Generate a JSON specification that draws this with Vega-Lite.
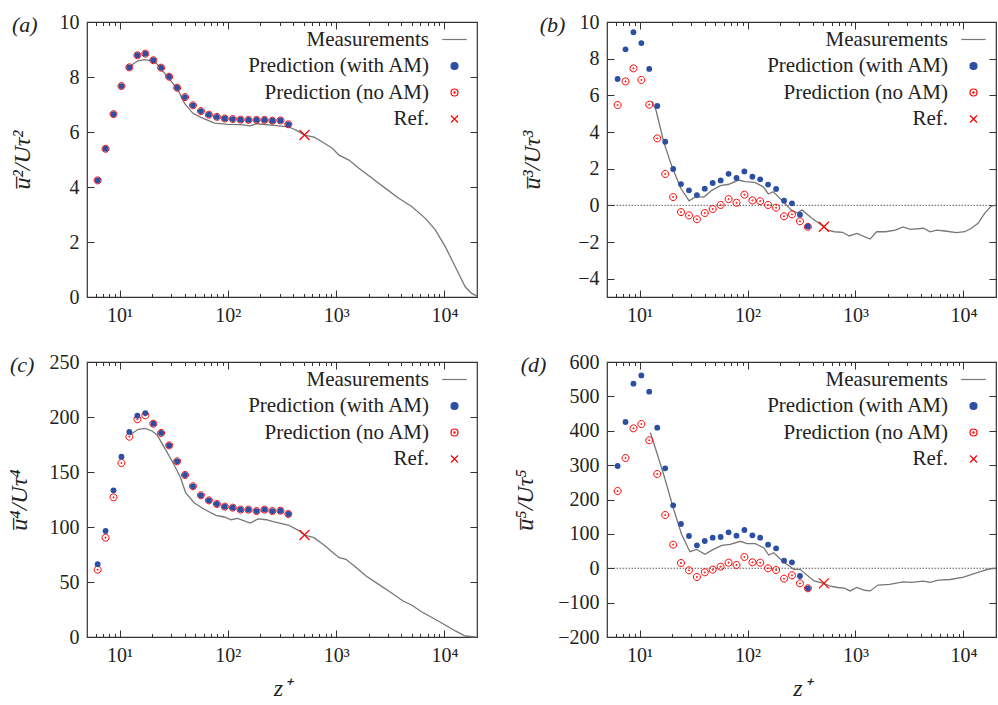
{
  "$schema": "https://vega.github.io/schema/vega-lite/v6.json",
  "background": "white",
  "padding": {"left": 6, "top": 11, "right": 0, "bottom": 0},
  "config": {
    "font": "Liberation Serif, Times New Roman, serif",
    "view": {"stroke": "#333333", "strokeWidth": 1.2},
    "axis": {"domain": false, "grid": false, "labelFont": "Liberation Serif, Times New Roman, serif", "labelFontSize": 20, "labelColor": "#222222", "tickColor": "#333333", "tickWidth": 1, "titleFont": "Liberation Serif, Times New Roman, serif", "titleFontStyle": "italic", "titleFontWeight": "normal", "titleFontSize": 24, "titleColor": "#222222", "labelFlush": false, "labelOverlap": false},
    "legend": {"orient": "top-right", "offset": 7, "padding": 0, "labelAlign": "right", "labelOffset": -36, "labelFont": "Liberation Serif, Times New Roman, serif", "labelFontSize": 21, "labelColor": "#222222", "labelLimit": 400, "symbolSize": 49, "symbolStrokeWidth": 1.2, "rowPadding": 4.5},
    "title": {"font": "Liberation Serif, Times New Roman, serif", "fontSize": 22, "fontStyle": "italic", "fontWeight": "normal", "color": "#222222", "anchor": "start", "frame": "bounds", "baseline": "middle", "offset": 0, "dy": 29}
  },
  "datasets": {
    "a": [
      {"s":"M","z":12.2,"v":8.37},{"s":"M","z":14.8,"v":8.59},{"s":"M","z":17.1,"v":8.63},{"s":"M","z":19.7,"v":8.59},{"s":"M","z":21.9,"v":8.5},{"s":"M","z":26.1,"v":8.13},{"s":"M","z":31.1,"v":7.77},{"s":"M","z":34.6,"v":7.53},{"s":"M","z":39.8,"v":7.04},{"s":"M","z":47.5,"v":6.68},{"s":"M","z":56.4,"v":6.53},{"s":"M","z":75.3,"v":6.32},{"s":"M","z":100,"v":6.28},{"s":"M","z":132,"v":6.27},{"s":"M","z":160,"v":6.22},{"s":"M","z":185,"v":6.3},{"s":"M","z":250,"v":6.25},{"s":"M","z":363,"v":6.19},{"s":"M","z":440,"v":6.04},{"s":"M","z":510,"v":5.89},{"s":"M","z":626,"v":5.81},{"s":"M","z":697,"v":5.71},{"s":"M","z":923,"v":5.41},{"s":"M","z":1063,"v":5.16},{"s":"M","z":1313,"v":4.98},{"s":"M","z":1622,"v":4.68},{"s":"M","z":2152,"v":4.32},{"s":"M","z":2856,"v":3.95},{"s":"M","z":3787,"v":3.59},{"s":"M","z":5021,"v":3.28},{"s":"M","z":6665,"v":2.86},{"s":"M","z":8240,"v":2.44},{"s":"M","z":10190,"v":1.83},{"s":"M","z":12590,"v":1.1},{"s":"M","z":15560,"v":0.37},{"s":"M","z":17900,"v":0.13},{"s":"M","z":19950,"v":0.03},
      {"s":"A","z":6.27,"v":4.24},{"s":"A","z":7.42,"v":5.39},{"s":"A","z":8.79,"v":6.65},{"s":"A","z":10.4,"v":7.67},{"s":"A","z":12.3,"v":8.35},{"s":"A","z":14.6,"v":8.79},{"s":"A","z":17.3,"v":8.85},{"s":"A","z":20.5,"v":8.61},{"s":"A","z":24.2,"v":8.34},{"s":"A","z":28.7,"v":8.01},{"s":"A","z":34,"v":7.61},{"s":"A","z":40.2,"v":7.27},{"s":"A","z":47.6,"v":6.97},{"s":"A","z":56.4,"v":6.76},{"s":"A","z":66.8,"v":6.63},{"s":"A","z":79.1,"v":6.55},{"s":"A","z":93.6,"v":6.49},{"s":"A","z":111,"v":6.47},{"s":"A","z":131,"v":6.45},{"s":"A","z":155,"v":6.44},{"s":"A","z":184,"v":6.44},{"s":"A","z":218,"v":6.44},{"s":"A","z":258,"v":6.41},{"s":"A","z":306,"v":6.42},{"s":"A","z":362,"v":6.28},
      {"s":"N","z":6.27,"v":4.24},{"s":"N","z":7.42,"v":5.39},{"s":"N","z":8.79,"v":6.65},{"s":"N","z":10.4,"v":7.67},{"s":"N","z":12.3,"v":8.35},{"s":"N","z":14.6,"v":8.79},{"s":"N","z":17.3,"v":8.85},{"s":"N","z":20.5,"v":8.61},{"s":"N","z":24.2,"v":8.34},{"s":"N","z":28.7,"v":8.01},{"s":"N","z":34,"v":7.61},{"s":"N","z":40.2,"v":7.27},{"s":"N","z":47.6,"v":6.97},{"s":"N","z":56.4,"v":6.76},{"s":"N","z":66.8,"v":6.63},{"s":"N","z":79.1,"v":6.55},{"s":"N","z":93.6,"v":6.49},{"s":"N","z":111,"v":6.47},{"s":"N","z":131,"v":6.45},{"s":"N","z":155,"v":6.44},{"s":"N","z":184,"v":6.44},{"s":"N","z":218,"v":6.44},{"s":"N","z":258,"v":6.41},{"s":"N","z":306,"v":6.42},{"s":"N","z":362,"v":6.28},
      {"s":"R","z":510,"v":5.89}
    ],
    "b": [
      {"s":"M","z":13,"v":5.69},{"s":"M","z":14.2,"v":5.2},{"s":"M","z":16.9,"v":3.38},{"s":"M","z":20,"v":2.1},{"s":"M","z":24.1,"v":0.93},{"s":"M","z":28.8,"v":0.25},{"s":"M","z":33.1,"v":0.47},{"s":"M","z":39.4,"v":0.45},{"s":"M","z":47.1,"v":0.83},{"s":"M","z":56.2,"v":1.07},{"s":"M","z":67,"v":1.15},{"s":"M","z":82.7,"v":1.38},{"s":"M","z":95.2,"v":1.29},{"s":"M","z":117,"v":1.25},{"s":"M","z":140,"v":1.01},{"s":"M","z":156,"v":0.62},{"s":"M","z":173,"v":0.74},{"s":"M","z":200,"v":0.38},{"s":"M","z":255,"v":-0.26},{"s":"M","z":292,"v":-0.42},{"s":"M","z":320,"v":-0.25},{"s":"M","z":389,"v":-0.68},{"s":"M","z":510,"v":-1.17},{"s":"M","z":553,"v":-1.35},{"s":"M","z":638,"v":-1.44},{"s":"M","z":760,"v":-1.47},{"s":"M","z":875,"v":-1.67},{"s":"M","z":1028,"v":-1.53},{"s":"M","z":1364,"v":-1.84},{"s":"M","z":1568,"v":-1.44},{"s":"M","z":1895,"v":-1.44},{"s":"M","z":2343,"v":-1.35},{"s":"M","z":2754,"v":-1.18},{"s":"M","z":3214,"v":-1.31},{"s":"M","z":4265,"v":-1.25},{"s":"M","z":4906,"v":-1.45},{"s":"M","z":5650,"v":-1.35},{"s":"M","z":6733,"v":-1.4},{"s":"M","z":8625,"v":-1.49},{"s":"M","z":10280,"v":-1.44},{"s":"M","z":11840,"v":-1.25},{"s":"M","z":13640,"v":-0.98},{"s":"M","z":15680,"v":-0.44},{"s":"M","z":18060,"v":-0.04},{"s":"M","z":19670,"v":0},
      {"s":"A","z":6.27,"v":6.89},{"s":"A","z":7.42,"v":8.51},{"s":"A","z":8.79,"v":9.44},{"s":"A","z":10.4,"v":8.85},{"s":"A","z":12.3,"v":7.44},{"s":"A","z":14.6,"v":5.42},{"s":"A","z":17.3,"v":3.47},{"s":"A","z":20.5,"v":1.98},{"s":"A","z":24.2,"v":1.16},{"s":"A","z":28.7,"v":0.82},{"s":"A","z":34,"v":0.56},{"s":"A","z":40.2,"v":0.91},{"s":"A","z":47.6,"v":1.22},{"s":"A","z":56.4,"v":1.36},{"s":"A","z":66.8,"v":1.72},{"s":"A","z":79.1,"v":1.49},{"s":"A","z":93.6,"v":1.85},{"s":"A","z":111,"v":1.56},{"s":"A","z":131,"v":1.42},{"s":"A","z":155,"v":1.13},{"s":"A","z":184,"v":0.89},{"s":"A","z":218,"v":0.25},{"s":"A","z":258,"v":0.11},{"s":"A","z":306,"v":-0.51},{"s":"A","z":362,"v":-1.15},
      {"s":"N","z":6.27,"v":5.47},{"s":"N","z":7.42,"v":6.76},{"s":"N","z":8.79,"v":7.47},{"s":"N","z":10.4,"v":6.84},{"s":"N","z":12.3,"v":5.49},{"s":"N","z":14.6,"v":3.65},{"s":"N","z":17.3,"v":1.71},{"s":"N","z":20.5,"v":0.45},{"s":"N","z":24.2,"v":-0.37},{"s":"N","z":28.7,"v":-0.55},{"s":"N","z":34,"v":-0.76},{"s":"N","z":40.2,"v":-0.42},{"s":"N","z":47.6,"v":-0.2},{"s":"N","z":56.4,"v":0.02},{"s":"N","z":66.8,"v":0.34},{"s":"N","z":79.1,"v":0.14},{"s":"N","z":93.6,"v":0.58},{"s":"N","z":111,"v":0.27},{"s":"N","z":131,"v":0.23},{"s":"N","z":155,"v":0.02},{"s":"N","z":184,"v":-0.13},{"s":"N","z":218,"v":-0.6},{"s":"N","z":258,"v":-0.49},{"s":"N","z":306,"v":-0.87},{"s":"N","z":362,"v":-1.17},
      {"s":"R","z":510,"v":-1.17}
    ],
    "c": [
      {"s":"M","z":12.4,"v":183.6},{"s":"M","z":14.9,"v":188.8},{"s":"M","z":17.2,"v":189.7},{"s":"M","z":19.9,"v":187.3},{"s":"M","z":22.2,"v":183.6},{"s":"M","z":26.5,"v":170.6},{"s":"M","z":31.7,"v":157},{"s":"M","z":36.6,"v":144.8},{"s":"M","z":40.7,"v":131.2},{"s":"M","z":48.7,"v":122.1},{"s":"M","z":60.4,"v":116.1},{"s":"M","z":77.6,"v":110.6},{"s":"M","z":92.7,"v":109.1},{"s":"M","z":107,"v":106.6},{"s":"M","z":123,"v":107.9},{"s":"M","z":161,"v":103.6},{"s":"M","z":190,"v":107.3},{"s":"M","z":227,"v":106.6},{"s":"M","z":262,"v":104.8},{"s":"M","z":361,"v":101.8},{"s":"M","z":448,"v":97},{"s":"M","z":510,"v":92.7},{"s":"M","z":624,"v":90.3},{"s":"M","z":794,"v":82.7},{"s":"M","z":891,"v":78.5},{"s":"M","z":1067,"v":72.1},{"s":"M","z":1230,"v":70.6},{"s":"M","z":1473,"v":64.5},{"s":"M","z":1889,"v":55.5},{"s":"M","z":2339,"v":49.4},{"s":"M","z":3228,"v":40.3},{"s":"M","z":4150,"v":32.7},{"s":"M","z":4963,"v":29.1},{"s":"M","z":6152,"v":23},{"s":"M","z":8204,"v":16.1},{"s":"M","z":10160,"v":10.9},{"s":"M","z":12610,"v":5.5},{"s":"M","z":15630,"v":0.9},{"s":"M","z":19360,"v":0},
      {"s":"A","z":6.27,"v":66.1},{"s":"A","z":7.42,"v":96.4},{"s":"A","z":8.79,"v":133.3},{"s":"A","z":10.4,"v":163.9},{"s":"A","z":12.3,"v":186.4},{"s":"A","z":14.6,"v":201.2},{"s":"A","z":17.3,"v":203.6},{"s":"A","z":20.5,"v":193.9},{"s":"A","z":24.2,"v":185.5},{"s":"A","z":28.7,"v":174.2},{"s":"A","z":34,"v":159.7},{"s":"A","z":40.2,"v":147.3},{"s":"A","z":47.6,"v":137},{"s":"A","z":56.4,"v":128.8},{"s":"A","z":66.8,"v":124.2},{"s":"A","z":79.1,"v":120.9},{"s":"A","z":93.6,"v":118.5},{"s":"A","z":111,"v":117.6},{"s":"A","z":131,"v":115.8},{"s":"A","z":155,"v":115.8},{"s":"A","z":184,"v":114.5},{"s":"A","z":218,"v":115.8},{"s":"A","z":258,"v":114.5},{"s":"A","z":306,"v":114.8},{"s":"A","z":362,"v":111.8},
      {"s":"N","z":6.27,"v":61.2},{"s":"N","z":7.42,"v":90.3},{"s":"N","z":8.79,"v":127},{"s":"N","z":10.4,"v":158.2},{"s":"N","z":12.3,"v":182.1},{"s":"N","z":14.6,"v":197.9},{"s":"N","z":17.3,"v":201.5},{"s":"N","z":20.5,"v":193.9},{"s":"N","z":24.2,"v":185.5},{"s":"N","z":28.7,"v":174.2},{"s":"N","z":34,"v":159.7},{"s":"N","z":40.2,"v":147.3},{"s":"N","z":47.6,"v":137},{"s":"N","z":56.4,"v":128.8},{"s":"N","z":66.8,"v":124.2},{"s":"N","z":79.1,"v":120.9},{"s":"N","z":93.6,"v":118.5},{"s":"N","z":111,"v":117.6},{"s":"N","z":131,"v":115.8},{"s":"N","z":155,"v":115.8},{"s":"N","z":184,"v":114.5},{"s":"N","z":218,"v":115.8},{"s":"N","z":258,"v":114.5},{"s":"N","z":306,"v":114.8},{"s":"N","z":362,"v":111.8},
      {"s":"R","z":510,"v":92.7}
    ],
    "d": [
      {"s":"M","z":12.6,"v":394.5},{"s":"M","z":14.3,"v":341},{"s":"M","z":17.1,"v":263},{"s":"M","z":20.5,"v":176},{"s":"M","z":24.5,"v":98.8},{"s":"M","z":29.3,"v":48.2},{"s":"M","z":33.8,"v":55},{"s":"M","z":40.4,"v":40.5},{"s":"M","z":48.3,"v":55},{"s":"M","z":57.8,"v":66.7},{"s":"M","z":69.2,"v":69.7},{"s":"M","z":85.8,"v":78.4},{"s":"M","z":98.9,"v":71.4},{"s":"M","z":118,"v":71.4},{"s":"M","z":141,"v":59.8},{"s":"M","z":157,"v":38.5},{"s":"M","z":175,"v":45.2},{"s":"M","z":210,"v":21.1},{"s":"M","z":269,"v":-3},{"s":"M","z":306,"v":-3},{"s":"M","z":414,"v":-37},{"s":"M","z":510,"v":-43.9},{"s":"M","z":571,"v":-51},{"s":"M","z":684,"v":-56},{"s":"M","z":788,"v":-58},{"s":"M","z":891,"v":-66},{"s":"M","z":1028,"v":-56},{"s":"M","z":1211,"v":-64},{"s":"M","z":1368,"v":-66},{"s":"M","z":1614,"v":-49},{"s":"M","z":2071,"v":-47},{"s":"M","z":2761,"v":-39.6},{"s":"M","z":3302,"v":-41.3},{"s":"M","z":4246,"v":-37.6},{"s":"M","z":4887,"v":-41.3},{"s":"M","z":5862,"v":-34.6},{"s":"M","z":7516,"v":-32.7},{"s":"M","z":10020,"v":-25.5},{"s":"M","z":11970,"v":-17.7},{"s":"M","z":14320,"v":-10},{"s":"M","z":17140,"v":-2.2},{"s":"M","z":19770,"v":0},
      {"s":"A","z":6.27,"v":297.5},{"s":"A","z":7.42,"v":425.5},{"s":"A","z":8.79,"v":537},{"s":"A","z":10.4,"v":561},{"s":"A","z":12.3,"v":513.7},{"s":"A","z":14.6,"v":409},{"s":"A","z":17.3,"v":290.7},{"s":"A","z":20.5,"v":183},{"s":"A","z":24.2,"v":128.7},{"s":"A","z":28.7,"v":93.8},{"s":"A","z":34,"v":66.7},{"s":"A","z":40.2,"v":79.3},{"s":"A","z":47.6,"v":88.9},{"s":"A","z":56.4,"v":90.9},{"s":"A","z":66.8,"v":104.5},{"s":"A","z":79.1,"v":94.8},{"s":"A","z":93.6,"v":111.3},{"s":"A","z":111,"v":95.8},{"s":"A","z":131,"v":88.9},{"s":"A","z":155,"v":68.6},{"s":"A","z":184,"v":58},{"s":"A","z":218,"v":22},{"s":"A","z":258,"v":17.2},{"s":"A","z":306,"v":-22.5},{"s":"A","z":362,"v":-58.4},
      {"s":"N","z":6.27,"v":224.7},{"s":"N","z":7.42,"v":320.7},{"s":"N","z":8.79,"v":407},{"s":"N","z":10.4,"v":419.6},{"s":"N","z":12.3,"v":372.2},{"s":"N","z":14.6,"v":274.2},{"s":"N","z":17.3,"v":154.9},{"s":"N","z":20.5,"v":68.6},{"s":"N","z":24.2,"v":15.3},{"s":"N","z":28.7,"v":-6.1},{"s":"N","z":34,"v":-25.5},{"s":"N","z":40.2,"v":-11.9},{"s":"N","z":47.6,"v":-4.1},{"s":"N","z":56.4,"v":4.6},{"s":"N","z":66.8,"v":16.2},{"s":"N","z":79.1,"v":9.5},{"s":"N","z":93.6,"v":32.7},{"s":"N","z":111,"v":17.2},{"s":"N","z":131,"v":16.2},{"s":"N","z":155,"v":-0.2},{"s":"N","z":184,"v":-5.1},{"s":"N","z":218,"v":-30.3},{"s":"N","z":258,"v":-20.6},{"s":"N","z":306,"v":-43.9},{"s":"N","z":362,"v":-58.4},
      {"s":"R","z":510,"v":-43.9}
    ]
  },
  "columns": 2,
  "spacing": {"row": 21, "column": 32},
  "resolve": {
    "scale": {"x": "independent", "y": "independent", "shape": "independent", "fill": "independent", "stroke": "independent"},
    "legend": {"shape": "independent", "fill": "independent", "stroke": "independent"}
  },
  "concat": [
    {
      "width": 390, "height": 275,
      "title": {"text": "(a)", "dx": 2},
      "data": {"name": "a"},
      "resolve": {"axis": {"x": "independent", "y": "independent"}},
      "layer": [
        {"transform": [{"filter": "datum.s==='M'"}],
         "mark": {"type": "line", "strokeWidth": 1.3},
         "encoding": {
           "x": {"field": "z", "type": "quantitative", "scale": {"type": "log", "domain": [5, 20000], "nice": false},
                 "axis": {"orient": "bottom", "values": [6,7,8,9,10,20,30,40,50,60,70,80,90,100,200,300,400,500,600,700,800,900,1000,2000,3000,4000,5000,6000,7000,8000,9000,10000],
                          "labelExpr": "abs(log(datum.value)/LN10-round(log(datum.value)/LN10))<0.001 ? '10'+['','¹','²','³','⁴'][round(log(datum.value)/LN10)] : ''",
                          "tickSize": {"condition": {"test": "abs(log(datum.value)/LN10-round(log(datum.value)/LN10))<0.001", "value": -7}, "value": -3.5},
                          "labelPadding": 15, "title": null}},
           "y": {"field": "v", "type": "quantitative", "scale": {"domain": [0, 10], "nice": false, "zero": false},
                 "axis": {"orient": "left", "values": [0,2,4,6,8,10], "tickSize": -7, "labelPadding": 15, "title": "u̅²/Uτ²", "titlePadding": 25}},
           "stroke": {"field": "s", "type": "nominal", "scale": {"domain": ["M","A","N","R"], "range": ["#777777","#2c4fa3","#ff0000","#ff0000"]}, "legend": {"title": null, "labelExpr": "datum.label==='M'?'Measurements':datum.label==='A'?'Prediction (with AM)':datum.label==='N'?'Prediction (no AM)':'Ref.'"}}
         }},
        {"transform": [{"filter": "datum.s==='N'"}],
         "mark": {"type": "point", "size": 49, "strokeWidth": 1, "opacity": 1},
         "encoding": {
           "x": {"field": "z", "type": "quantitative", "axis": null},
           "y": {"field": "v", "type": "quantitative", "axis": null},
           "shape": {"field": "s", "type": "nominal", "scale": {"domain": ["M","A","N","R"], "range": ["M-3.5,0H3.5","circle","M1,0A1,1,0,1,1,-1,0A1,1,0,1,1,1,0M0.18,0A0.18,0.18,0,1,1,-0.18,0A0.18,0.18,0,1,1,0.18,0","M-1,-1L1,1M-1,1L1,-1"]}, "legend": {"title": null, "labelExpr": "datum.label==='M'?'Measurements':datum.label==='A'?'Prediction (with AM)':datum.label==='N'?'Prediction (no AM)':'Ref.'"}},
           "fill": {"field": "s", "type": "nominal", "scale": {"domain": ["M","A","N","R"], "range": ["transparent","#2c4fa3","transparent","transparent"]}, "legend": {"title": null, "labelExpr": "datum.label==='M'?'Measurements':datum.label==='A'?'Prediction (with AM)':datum.label==='N'?'Prediction (no AM)':'Ref.'"}},
           "stroke": {"field": "s", "type": "nominal", "legend": {"title": null, "labelExpr": "datum.label==='M'?'Measurements':datum.label==='A'?'Prediction (with AM)':datum.label==='N'?'Prediction (no AM)':'Ref.'"}}
         }},
        {"transform": [{"filter": "datum.s==='A'"}],
         "mark": {"type": "point", "size": 34, "strokeWidth": 0, "opacity": 1},
         "encoding": {
           "x": {"field": "z", "type": "quantitative", "axis": null},
           "y": {"field": "v", "type": "quantitative", "axis": null},
           "shape": {"field": "s", "type": "nominal", "legend": {"title": null, "labelExpr": "datum.label==='M'?'Measurements':datum.label==='A'?'Prediction (with AM)':datum.label==='N'?'Prediction (no AM)':'Ref.'"}},
           "fill": {"field": "s", "type": "nominal", "legend": {"title": null, "labelExpr": "datum.label==='M'?'Measurements':datum.label==='A'?'Prediction (with AM)':datum.label==='N'?'Prediction (no AM)':'Ref.'"}},
           "stroke": {"field": "s", "type": "nominal", "legend": {"title": null, "labelExpr": "datum.label==='M'?'Measurements':datum.label==='A'?'Prediction (with AM)':datum.label==='N'?'Prediction (no AM)':'Ref.'"}}
         }},
        {"transform": [{"filter": "datum.s==='R'"}],
         "mark": {"type": "point", "size": 100, "strokeWidth": 1.2, "opacity": 1},
         "encoding": {
           "x": {"field": "z", "type": "quantitative", "axis": null},
           "y": {"field": "v", "type": "quantitative", "axis": null},
           "shape": {"field": "s", "type": "nominal", "legend": {"title": null, "labelExpr": "datum.label==='M'?'Measurements':datum.label==='A'?'Prediction (with AM)':datum.label==='N'?'Prediction (no AM)':'Ref.'"}},
           "fill": {"field": "s", "type": "nominal", "legend": {"title": null, "labelExpr": "datum.label==='M'?'Measurements':datum.label==='A'?'Prediction (with AM)':datum.label==='N'?'Prediction (no AM)':'Ref.'"}},
           "stroke": {"field": "s", "type": "nominal", "legend": {"title": null, "labelExpr": "datum.label==='M'?'Measurements':datum.label==='A'?'Prediction (with AM)':datum.label==='N'?'Prediction (no AM)':'Ref.'"}}
         }},
        {"transform": [{"filter": "datum.s==='R'"}],
         "mark": {"type": "point", "opacity": 0},
         "encoding": {
           "x": {"field": "z", "type": "quantitative",
                 "axis": {"orient": "top", "values": [6,7,8,9,10,20,30,40,50,60,70,80,90,100,200,300,400,500,600,700,800,900,1000,2000,3000,4000,5000,6000,7000,8000,9000,10000], "labels": false,
                          "tickSize": {"condition": {"test": "abs(log(datum.value)/LN10-round(log(datum.value)/LN10))<0.001", "value": -7}, "value": -3.5}, "title": null}},
           "y": {"field": "v", "type": "quantitative", "axis": {"orient": "right", "values": [0,2,4,6,8,10], "labels": false, "tickSize": -7, "title": null}}
         }}
      ]
    },
    {
      "width": 389, "height": 275,
      "title": {"text": "(b)", "dx": 19},
      "data": {"name": "b"},
      "resolve": {"axis": {"x": "independent", "y": "independent"}},
      "layer": [
        {"data": {"values": [{}]},
         "mark": {"type": "rule", "strokeDash": [1.5, 1.5], "color": "#333333", "strokeWidth": 0.8},
         "encoding": {"y": {"datum": 0, "type": "quantitative", "axis": null}}},
        {"transform": [{"filter": "datum.s==='M'"}],
         "mark": {"type": "line", "strokeWidth": 1.3},
         "encoding": {
           "x": {"field": "z", "type": "quantitative", "scale": {"type": "log", "domain": [5, 20000], "nice": false},
                 "axis": {"orient": "bottom", "values": [6,7,8,9,10,20,30,40,50,60,70,80,90,100,200,300,400,500,600,700,800,900,1000,2000,3000,4000,5000,6000,7000,8000,9000,10000],
                          "labelExpr": "abs(log(datum.value)/LN10-round(log(datum.value)/LN10))<0.001 ? '10'+['','¹','²','³','⁴'][round(log(datum.value)/LN10)] : ''",
                          "tickSize": {"condition": {"test": "abs(log(datum.value)/LN10-round(log(datum.value)/LN10))<0.001", "value": -7}, "value": -3.5},
                          "labelPadding": 15, "title": null}},
           "y": {"field": "v", "type": "quantitative", "scale": {"domain": [-5, 10], "nice": false, "zero": false},
                 "axis": {"orient": "left", "values": [-4,-2,0,2,4,6,8,10], "tickSize": -7, "labelPadding": 15, "title": "u̅³/Uτ³", "titlePadding": 33}},
           "stroke": {"field": "s", "type": "nominal", "scale": {"domain": ["M","A","N","R"], "range": ["#777777","#2c4fa3","#ff0000","#ff0000"]}, "legend": {"title": null, "labelExpr": "datum.label==='M'?'Measurements':datum.label==='A'?'Prediction (with AM)':datum.label==='N'?'Prediction (no AM)':'Ref.'"}}
         }},
        {"transform": [{"filter": "datum.s==='N'"}],
         "mark": {"type": "point", "size": 49, "strokeWidth": 1, "opacity": 1},
         "encoding": {
           "x": {"field": "z", "type": "quantitative", "axis": null},
           "y": {"field": "v", "type": "quantitative", "axis": null},
           "shape": {"field": "s", "type": "nominal", "scale": {"domain": ["M","A","N","R"], "range": ["M-3.5,0H3.5","circle","M1,0A1,1,0,1,1,-1,0A1,1,0,1,1,1,0M0.18,0A0.18,0.18,0,1,1,-0.18,0A0.18,0.18,0,1,1,0.18,0","M-1,-1L1,1M-1,1L1,-1"]}, "legend": {"title": null, "labelExpr": "datum.label==='M'?'Measurements':datum.label==='A'?'Prediction (with AM)':datum.label==='N'?'Prediction (no AM)':'Ref.'"}},
           "fill": {"field": "s", "type": "nominal", "scale": {"domain": ["M","A","N","R"], "range": ["transparent","#2c4fa3","transparent","transparent"]}, "legend": {"title": null, "labelExpr": "datum.label==='M'?'Measurements':datum.label==='A'?'Prediction (with AM)':datum.label==='N'?'Prediction (no AM)':'Ref.'"}},
           "stroke": {"field": "s", "type": "nominal", "legend": {"title": null, "labelExpr": "datum.label==='M'?'Measurements':datum.label==='A'?'Prediction (with AM)':datum.label==='N'?'Prediction (no AM)':'Ref.'"}}
         }},
        {"transform": [{"filter": "datum.s==='A'"}],
         "mark": {"type": "point", "size": 34, "strokeWidth": 0, "opacity": 1},
         "encoding": {
           "x": {"field": "z", "type": "quantitative", "axis": null},
           "y": {"field": "v", "type": "quantitative", "axis": null},
           "shape": {"field": "s", "type": "nominal", "legend": {"title": null, "labelExpr": "datum.label==='M'?'Measurements':datum.label==='A'?'Prediction (with AM)':datum.label==='N'?'Prediction (no AM)':'Ref.'"}},
           "fill": {"field": "s", "type": "nominal", "legend": {"title": null, "labelExpr": "datum.label==='M'?'Measurements':datum.label==='A'?'Prediction (with AM)':datum.label==='N'?'Prediction (no AM)':'Ref.'"}},
           "stroke": {"field": "s", "type": "nominal", "legend": {"title": null, "labelExpr": "datum.label==='M'?'Measurements':datum.label==='A'?'Prediction (with AM)':datum.label==='N'?'Prediction (no AM)':'Ref.'"}}
         }},
        {"transform": [{"filter": "datum.s==='R'"}],
         "mark": {"type": "point", "size": 100, "strokeWidth": 1.2, "opacity": 1},
         "encoding": {
           "x": {"field": "z", "type": "quantitative", "axis": null},
           "y": {"field": "v", "type": "quantitative", "axis": null},
           "shape": {"field": "s", "type": "nominal", "legend": {"title": null, "labelExpr": "datum.label==='M'?'Measurements':datum.label==='A'?'Prediction (with AM)':datum.label==='N'?'Prediction (no AM)':'Ref.'"}},
           "fill": {"field": "s", "type": "nominal", "legend": {"title": null, "labelExpr": "datum.label==='M'?'Measurements':datum.label==='A'?'Prediction (with AM)':datum.label==='N'?'Prediction (no AM)':'Ref.'"}},
           "stroke": {"field": "s", "type": "nominal", "legend": {"title": null, "labelExpr": "datum.label==='M'?'Measurements':datum.label==='A'?'Prediction (with AM)':datum.label==='N'?'Prediction (no AM)':'Ref.'"}}
         }},
        {"transform": [{"filter": "datum.s==='R'"}],
         "mark": {"type": "point", "opacity": 0},
         "encoding": {
           "x": {"field": "z", "type": "quantitative",
                 "axis": {"orient": "top", "values": [6,7,8,9,10,20,30,40,50,60,70,80,90,100,200,300,400,500,600,700,800,900,1000,2000,3000,4000,5000,6000,7000,8000,9000,10000], "labels": false,
                          "tickSize": {"condition": {"test": "abs(log(datum.value)/LN10-round(log(datum.value)/LN10))<0.001", "value": -7}, "value": -3.5}, "title": null}},
           "y": {"field": "v", "type": "quantitative", "axis": {"orient": "right", "values": [-4,-2,0,2,4,6,8,10], "labels": false, "tickSize": -7, "title": null}}
         }}
      ]
    },
    {
      "width": 390, "height": 275,
      "title": {"text": "(c)", "dx": 3},
      "data": {"name": "c"},
      "resolve": {"axis": {"x": "independent", "y": "independent"}},
      "layer": [
        {"transform": [{"filter": "datum.s==='M'"}],
         "mark": {"type": "line", "strokeWidth": 1.3},
         "encoding": {
           "x": {"field": "z", "type": "quantitative", "scale": {"type": "log", "domain": [5, 20000], "nice": false},
                 "axis": {"orient": "bottom", "values": [6,7,8,9,10,20,30,40,50,60,70,80,90,100,200,300,400,500,600,700,800,900,1000,2000,3000,4000,5000,6000,7000,8000,9000,10000],
                          "labelExpr": "abs(log(datum.value)/LN10-round(log(datum.value)/LN10))<0.001 ? '10'+['','¹','²','³','⁴'][round(log(datum.value)/LN10)] : ''",
                          "tickSize": {"condition": {"test": "abs(log(datum.value)/LN10-round(log(datum.value)/LN10))<0.001", "value": -7}, "value": -3.5},
                          "labelPadding": 15, "title": "z⁺", "titlePadding": 8}},
           "y": {"field": "v", "type": "quantitative", "scale": {"domain": [0, 250], "nice": false, "zero": false},
                 "axis": {"orient": "left", "values": [0,50,100,150,200,250], "tickSize": -7, "labelPadding": 15, "title": "u̅⁴/Uτ⁴", "titlePadding": 18}},
           "stroke": {"field": "s", "type": "nominal", "scale": {"domain": ["M","A","N","R"], "range": ["#777777","#2c4fa3","#ff0000","#ff0000"]}, "legend": {"title": null, "labelExpr": "datum.label==='M'?'Measurements':datum.label==='A'?'Prediction (with AM)':datum.label==='N'?'Prediction (no AM)':'Ref.'"}}
         }},
        {"transform": [{"filter": "datum.s==='N'"}],
         "mark": {"type": "point", "size": 49, "strokeWidth": 1, "opacity": 1},
         "encoding": {
           "x": {"field": "z", "type": "quantitative", "axis": null},
           "y": {"field": "v", "type": "quantitative", "axis": null},
           "shape": {"field": "s", "type": "nominal", "scale": {"domain": ["M","A","N","R"], "range": ["M-3.5,0H3.5","circle","M1,0A1,1,0,1,1,-1,0A1,1,0,1,1,1,0M0.18,0A0.18,0.18,0,1,1,-0.18,0A0.18,0.18,0,1,1,0.18,0","M-1,-1L1,1M-1,1L1,-1"]}, "legend": {"title": null, "labelExpr": "datum.label==='M'?'Measurements':datum.label==='A'?'Prediction (with AM)':datum.label==='N'?'Prediction (no AM)':'Ref.'"}},
           "fill": {"field": "s", "type": "nominal", "scale": {"domain": ["M","A","N","R"], "range": ["transparent","#2c4fa3","transparent","transparent"]}, "legend": {"title": null, "labelExpr": "datum.label==='M'?'Measurements':datum.label==='A'?'Prediction (with AM)':datum.label==='N'?'Prediction (no AM)':'Ref.'"}},
           "stroke": {"field": "s", "type": "nominal", "legend": {"title": null, "labelExpr": "datum.label==='M'?'Measurements':datum.label==='A'?'Prediction (with AM)':datum.label==='N'?'Prediction (no AM)':'Ref.'"}}
         }},
        {"transform": [{"filter": "datum.s==='A'"}],
         "mark": {"type": "point", "size": 34, "strokeWidth": 0, "opacity": 1},
         "encoding": {
           "x": {"field": "z", "type": "quantitative", "axis": null},
           "y": {"field": "v", "type": "quantitative", "axis": null},
           "shape": {"field": "s", "type": "nominal", "legend": {"title": null, "labelExpr": "datum.label==='M'?'Measurements':datum.label==='A'?'Prediction (with AM)':datum.label==='N'?'Prediction (no AM)':'Ref.'"}},
           "fill": {"field": "s", "type": "nominal", "legend": {"title": null, "labelExpr": "datum.label==='M'?'Measurements':datum.label==='A'?'Prediction (with AM)':datum.label==='N'?'Prediction (no AM)':'Ref.'"}},
           "stroke": {"field": "s", "type": "nominal", "legend": {"title": null, "labelExpr": "datum.label==='M'?'Measurements':datum.label==='A'?'Prediction (with AM)':datum.label==='N'?'Prediction (no AM)':'Ref.'"}}
         }},
        {"transform": [{"filter": "datum.s==='R'"}],
         "mark": {"type": "point", "size": 100, "strokeWidth": 1.2, "opacity": 1},
         "encoding": {
           "x": {"field": "z", "type": "quantitative", "axis": null},
           "y": {"field": "v", "type": "quantitative", "axis": null},
           "shape": {"field": "s", "type": "nominal", "legend": {"title": null, "labelExpr": "datum.label==='M'?'Measurements':datum.label==='A'?'Prediction (with AM)':datum.label==='N'?'Prediction (no AM)':'Ref.'"}},
           "fill": {"field": "s", "type": "nominal", "legend": {"title": null, "labelExpr": "datum.label==='M'?'Measurements':datum.label==='A'?'Prediction (with AM)':datum.label==='N'?'Prediction (no AM)':'Ref.'"}},
           "stroke": {"field": "s", "type": "nominal", "legend": {"title": null, "labelExpr": "datum.label==='M'?'Measurements':datum.label==='A'?'Prediction (with AM)':datum.label==='N'?'Prediction (no AM)':'Ref.'"}}
         }},
        {"transform": [{"filter": "datum.s==='R'"}],
         "mark": {"type": "point", "opacity": 0},
         "encoding": {
           "x": {"field": "z", "type": "quantitative",
                 "axis": {"orient": "top", "values": [6,7,8,9,10,20,30,40,50,60,70,80,90,100,200,300,400,500,600,700,800,900,1000,2000,3000,4000,5000,6000,7000,8000,9000,10000], "labels": false,
                          "tickSize": {"condition": {"test": "abs(log(datum.value)/LN10-round(log(datum.value)/LN10))<0.001", "value": -7}, "value": -3.5}, "title": null}},
           "y": {"field": "v", "type": "quantitative", "axis": {"orient": "right", "values": [0,50,100,150,200,250], "labels": false, "tickSize": -7, "title": null}}
         }}
      ]
    },
    {
      "width": 389, "height": 275,
      "title": {"text": "(d)", "dx": 7},
      "data": {"name": "d"},
      "resolve": {"axis": {"x": "independent", "y": "independent"}},
      "layer": [
        {"data": {"values": [{}]},
         "mark": {"type": "rule", "strokeDash": [1.5, 1.5], "color": "#333333", "strokeWidth": 0.8},
         "encoding": {"y": {"datum": 0, "type": "quantitative", "axis": null}}},
        {"transform": [{"filter": "datum.s==='M'"}],
         "mark": {"type": "line", "strokeWidth": 1.3},
         "encoding": {
           "x": {"field": "z", "type": "quantitative", "scale": {"type": "log", "domain": [5, 20000], "nice": false},
                 "axis": {"orient": "bottom", "values": [6,7,8,9,10,20,30,40,50,60,70,80,90,100,200,300,400,500,600,700,800,900,1000,2000,3000,4000,5000,6000,7000,8000,9000,10000],
                          "labelExpr": "abs(log(datum.value)/LN10-round(log(datum.value)/LN10))<0.001 ? '10'+['','¹','²','³','⁴'][round(log(datum.value)/LN10)] : ''",
                          "tickSize": {"condition": {"test": "abs(log(datum.value)/LN10-round(log(datum.value)/LN10))<0.001", "value": -7}, "value": -3.5},
                          "labelPadding": 15, "title": "z⁺", "titlePadding": 8}},
           "y": {"field": "v", "type": "quantitative", "scale": {"domain": [-200, 600], "nice": false, "zero": false},
                 "axis": {"orient": "left", "values": [-200,-100,0,100,200,300,400,500,600], "tickSize": -7, "labelPadding": 15, "title": "u̅⁵/Uτ⁵", "titlePadding": 20}},
           "stroke": {"field": "s", "type": "nominal", "scale": {"domain": ["M","A","N","R"], "range": ["#777777","#2c4fa3","#ff0000","#ff0000"]}, "legend": {"title": null, "labelExpr": "datum.label==='M'?'Measurements':datum.label==='A'?'Prediction (with AM)':datum.label==='N'?'Prediction (no AM)':'Ref.'"}}
         }},
        {"transform": [{"filter": "datum.s==='N'"}],
         "mark": {"type": "point", "size": 49, "strokeWidth": 1, "opacity": 1},
         "encoding": {
           "x": {"field": "z", "type": "quantitative", "axis": null},
           "y": {"field": "v", "type": "quantitative", "axis": null},
           "shape": {"field": "s", "type": "nominal", "scale": {"domain": ["M","A","N","R"], "range": ["M-3.5,0H3.5","circle","M1,0A1,1,0,1,1,-1,0A1,1,0,1,1,1,0M0.18,0A0.18,0.18,0,1,1,-0.18,0A0.18,0.18,0,1,1,0.18,0","M-1,-1L1,1M-1,1L1,-1"]}, "legend": {"title": null, "labelExpr": "datum.label==='M'?'Measurements':datum.label==='A'?'Prediction (with AM)':datum.label==='N'?'Prediction (no AM)':'Ref.'"}},
           "fill": {"field": "s", "type": "nominal", "scale": {"domain": ["M","A","N","R"], "range": ["transparent","#2c4fa3","transparent","transparent"]}, "legend": {"title": null, "labelExpr": "datum.label==='M'?'Measurements':datum.label==='A'?'Prediction (with AM)':datum.label==='N'?'Prediction (no AM)':'Ref.'"}},
           "stroke": {"field": "s", "type": "nominal", "legend": {"title": null, "labelExpr": "datum.label==='M'?'Measurements':datum.label==='A'?'Prediction (with AM)':datum.label==='N'?'Prediction (no AM)':'Ref.'"}}
         }},
        {"transform": [{"filter": "datum.s==='A'"}],
         "mark": {"type": "point", "size": 34, "strokeWidth": 0, "opacity": 1},
         "encoding": {
           "x": {"field": "z", "type": "quantitative", "axis": null},
           "y": {"field": "v", "type": "quantitative", "axis": null},
           "shape": {"field": "s", "type": "nominal", "legend": {"title": null, "labelExpr": "datum.label==='M'?'Measurements':datum.label==='A'?'Prediction (with AM)':datum.label==='N'?'Prediction (no AM)':'Ref.'"}},
           "fill": {"field": "s", "type": "nominal", "legend": {"title": null, "labelExpr": "datum.label==='M'?'Measurements':datum.label==='A'?'Prediction (with AM)':datum.label==='N'?'Prediction (no AM)':'Ref.'"}},
           "stroke": {"field": "s", "type": "nominal", "legend": {"title": null, "labelExpr": "datum.label==='M'?'Measurements':datum.label==='A'?'Prediction (with AM)':datum.label==='N'?'Prediction (no AM)':'Ref.'"}}
         }},
        {"transform": [{"filter": "datum.s==='R'"}],
         "mark": {"type": "point", "size": 100, "strokeWidth": 1.2, "opacity": 1},
         "encoding": {
           "x": {"field": "z", "type": "quantitative", "axis": null},
           "y": {"field": "v", "type": "quantitative", "axis": null},
           "shape": {"field": "s", "type": "nominal", "legend": {"title": null, "labelExpr": "datum.label==='M'?'Measurements':datum.label==='A'?'Prediction (with AM)':datum.label==='N'?'Prediction (no AM)':'Ref.'"}},
           "fill": {"field": "s", "type": "nominal", "legend": {"title": null, "labelExpr": "datum.label==='M'?'Measurements':datum.label==='A'?'Prediction (with AM)':datum.label==='N'?'Prediction (no AM)':'Ref.'"}},
           "stroke": {"field": "s", "type": "nominal", "legend": {"title": null, "labelExpr": "datum.label==='M'?'Measurements':datum.label==='A'?'Prediction (with AM)':datum.label==='N'?'Prediction (no AM)':'Ref.'"}}
         }},
        {"transform": [{"filter": "datum.s==='R'"}],
         "mark": {"type": "point", "opacity": 0},
         "encoding": {
           "x": {"field": "z", "type": "quantitative",
                 "axis": {"orient": "top", "values": [6,7,8,9,10,20,30,40,50,60,70,80,90,100,200,300,400,500,600,700,800,900,1000,2000,3000,4000,5000,6000,7000,8000,9000,10000], "labels": false,
                          "tickSize": {"condition": {"test": "abs(log(datum.value)/LN10-round(log(datum.value)/LN10))<0.001", "value": -7}, "value": -3.5}, "title": null}},
           "y": {"field": "v", "type": "quantitative", "axis": {"orient": "right", "values": [-200,-100,0,100,200,300,400,500,600], "labels": false, "tickSize": -7, "title": null}}
         }}
      ]
    }
  ]
}
